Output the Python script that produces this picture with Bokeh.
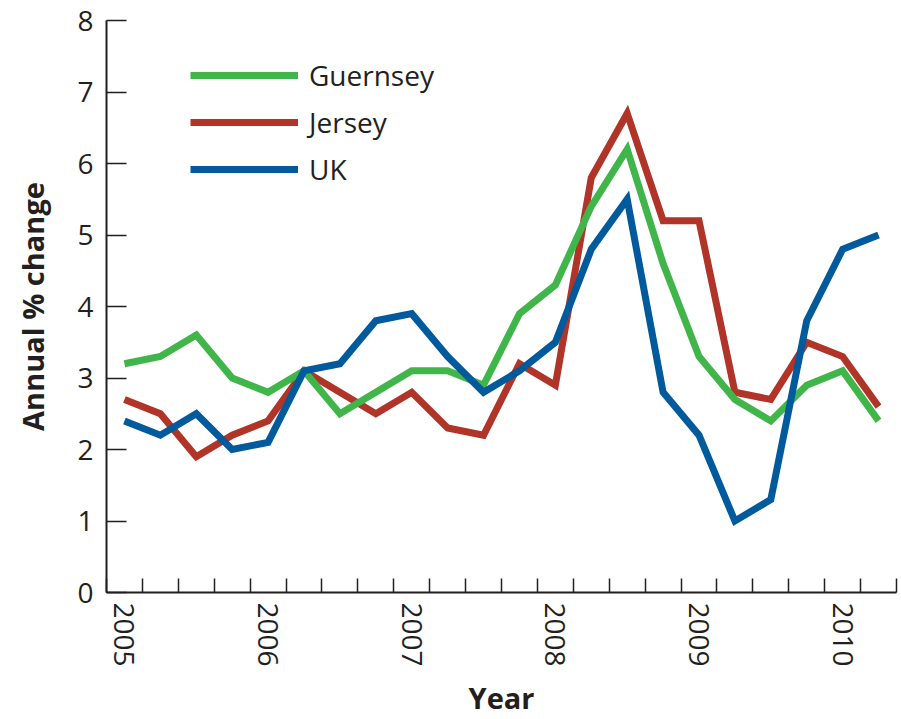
from bokeh.plotting import figure
from bokeh.models import Range1d, FixedTicker, Legend, LegendItem
from bokeh.embed import file_html
from bokeh.resources import INLINE

quarters = list(range(22))  # 2005 Q1 .. 2010 Q2
year_labels = {0: "2005", 4: "2006", 8: "2007", 12: "2008", 16: "2009", 20: "2010"}

guernsey = [3.2, 3.3, 3.6, 3.0, 2.8, 3.1, 2.5, 2.8, 3.1, 3.1, 2.9, 3.9,
            4.3, 5.4, 6.2, 4.6, 3.3, 2.7, 2.4, 2.9, 3.1, 2.4]
jersey = [2.7, 2.5, 1.9, 2.2, 2.4, 3.1, 2.8, 2.5, 2.8, 2.3, 2.2, 3.2,
          2.9, 5.8, 6.7, 5.2, 5.2, 2.8, 2.7, 3.5, 3.3, 2.6]
uk = [2.4, 2.2, 2.5, 2.0, 2.1, 3.1, 3.2, 3.8, 3.9, 3.3, 2.8, 3.1,
      3.5, 4.8, 5.5, 2.8, 2.2, 1.0, 1.3, 3.8, 4.8, 5.0]
y_ticks = [0, 1, 2, 3, 4, 5, 6, 7, 8]

GREEN = "#40b64a"
RED = "#b03427"
BLUE = "#005a9c"
INK = "#231f20"
FONT = "Open Sans"

p = figure(width=899, height=719, output_backend="svg", toolbar_location=None,
           x_range=Range1d(-0.5, 21.5), y_range=Range1d(0, 8))
p.min_border_left = 106
p.min_border_top = 20
p.min_border_right = 3
p.min_border_bottom = 126
p.outline_line_color = None
p.xgrid.visible = False
p.ygrid.visible = False
p.background_fill_color = "white"
p.border_fill_color = "white"

r_j = p.line(quarters, jersey, line_color=RED, line_width=7, line_join="miter")
r_g = p.line(quarters, guernsey, line_color=GREEN, line_width=7, line_join="miter")
r_u = p.line(quarters, uk, line_color=BLUE, line_width=7, line_join="miter")

xa = p.xaxis[0]
xa.ticker = FixedTicker(ticks=list(year_labels.keys()),
                        minor_ticks=[q - 0.5 for q in range(23)])
xa.major_label_overrides = year_labels
xa.major_label_orientation = "vertical"
xa.major_tick_in = 0
xa.major_tick_out = 0
xa.minor_tick_in = 14
xa.minor_tick_out = 0
xa.minor_tick_line_color = INK
xa.minor_tick_line_width = 1.5
xa.axis_line_color = INK
xa.axis_line_width = 2
xa.major_label_standoff = 10
xa.major_label_text_font = FONT
xa.major_label_text_font_size = "28px"
xa.major_label_text_color = INK
xa.axis_label = "Year"
xa.axis_label_text_font = FONT
xa.axis_label_text_font_style = "bold"
xa.axis_label_text_font_size = "29px"
xa.axis_label_text_color = INK
xa.axis_label_standoff = 8

ya = p.yaxis[0]
ya.ticker = FixedTicker(ticks=y_ticks, minor_ticks=[])
ya.major_tick_in = 20
ya.major_tick_out = 0
ya.major_tick_line_color = INK
ya.major_tick_line_width = 1.5
ya.axis_line_color = INK
ya.axis_line_width = 2
ya.major_label_standoff = 13
ya.major_label_text_font = FONT
ya.major_label_text_font_size = "28px"
ya.major_label_text_color = INK
ya.axis_label = "Annual % change"
ya.axis_label_text_font = FONT
ya.axis_label_text_font_style = "bold"
ya.axis_label_text_font_size = "29px"
ya.axis_label_text_color = INK
ya.axis_label_standoff = 22

legend = Legend(items=[LegendItem(label="Guernsey", renderers=[r_g]),
                       LegendItem(label="Jersey", renderers=[r_j]),
                       LegendItem(label="UK", renderers=[r_u])],
                location=(84, 403))
legend.glyph_width = 108
legend.glyph_height = 40
legend.label_height = 40
legend.spacing = 7
legend.padding = 0
legend.margin = 0
legend.label_standoff = 11
legend.label_text_font = FONT
legend.label_text_font_size = "28px"
legend.label_text_color = INK
legend.border_line_alpha = 0
legend.background_fill_alpha = 0
p.add_layout(legend)

open("out.html", "w").write(file_html(p, INLINE))
